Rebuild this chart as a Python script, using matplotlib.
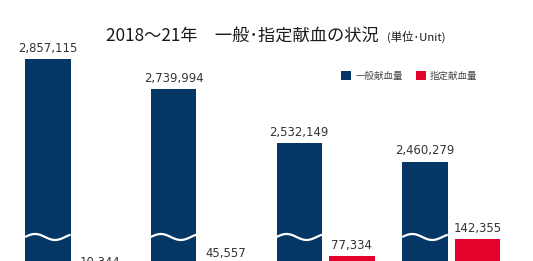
import numpy as np
import matplotlib
matplotlib.use("Agg")
import matplotlib.pyplot as plt
from matplotlib.transforms import blended_transform_factory

plt.rcParams['font.family'] = ['Noto Sans CJK JP', 'DejaVu Sans']

# Data
years = ["2018", "2019", "2020", "2021"]
general_donation = [2857115, 2739994, 2532149, 2460279]   # 一般献血量
designated_donation = [10344, 45557, 77334, 142355]      # 指定献血量
series_labels = ["一般献血量", "指定献血量"]

BLUE = "#053766"
RED = "#e3022c"

W, H = 533, 261
fig = plt.figure(figsize=(W / 100, H / 100), dpi=100)
fig.patch.set_facecolor("white")

# Broken value axis: a low band for small values and a high band for large ones
break_y = 0.0920
ax_low = fig.add_axes([0, -0.0582, 1, break_y + 0.0582])
ax_high = fig.add_axes([0, break_y, 1, 1 - break_y])
ax_low.set_ylim(0, 151300)
ax_high.set_ylim(2170000, 3084800)

x = np.arange(len(years))
bw = 0.362
off = 0.2088
xlim = (-0.589, 3.650)

for ax in (ax_low, ax_high):
    ax.set_xlim(*xlim)
    ax.axis("off")
    ax.patch.set_alpha(0)

b_general = None
for ax in (ax_low, ax_high):
    b_general = ax.bar(x - off, general_donation, width=bw, color=BLUE,
                       linewidth=0, label=series_labels[0])
b_designated = ax_low.bar(x + off, designated_donation, width=bw, color=RED,
                          linewidth=0, label=series_labels[1])

num_kw = dict(ha="center", va="bottom", fontsize=8.4, color="#333333",
              family="DejaVu Sans", textcoords="offset points", xytext=(0, 3.2))
for xi, v in zip(x, general_donation):
    ax_high.annotate(f"{v:,}", (xi - off, v), **num_kw)
for xi, v in zip(x, designated_donation):
    ax_low.annotate(f"{v:,}", (xi + off, v), **num_kw)

# Wavy break marks across the tall bars
tr = blended_transform_factory(ax_high.transData, fig.transFigure)
t = np.linspace(0, 1, 120)
amp = 3.0 / H
for xi in x:
    xs = (xi - off - bw / 2) + t * bw
    ys = break_y + amp * np.sin(2 * np.pi * t / 0.88)
    ax_high.plot(xs, ys, color="white", lw=1.6, transform=tr,
                 clip_on=False, solid_capstyle="butt", zorder=5)

# Title
fig.text(106 / W, 1 - 41.5 / H, "2018～21年　一般･指定献血の状況",
         ha="left", va="baseline", fontsize=12.4, color="#1a1a1a")
fig.text(387 / W, 1 - 41.0 / H, "(単位･Unit)",
         ha="left", va="baseline", fontsize=8.2, color="#1a1a1a")

# Legend
fig.legend(handles=[b_general, b_designated], labels=series_labels,
           loc="center left", bbox_to_anchor=(341 / W, 1 - 76 / H),
           ncol=2, frameon=False, fontsize=6.8, handlelength=1.05,
           handleheight=1.0, handletextpad=0.45, columnspacing=1.4,
           borderpad=0, borderaxespad=0, labelcolor="#444444")

fig.savefig("out.png", dpi=100, facecolor="white")
